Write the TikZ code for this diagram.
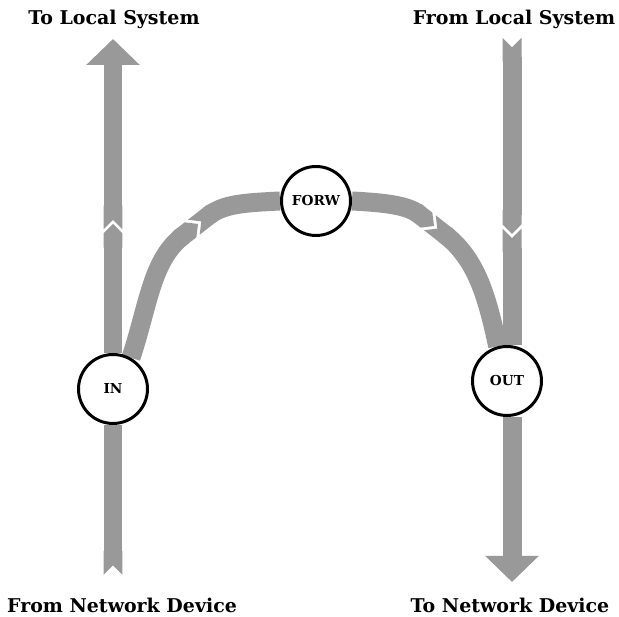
\documentclass[tikz,border=0pt]{standalone}
\usepackage{fontspec}
\setmainfont{DejaVu Serif}
\usetikzlibrary{arrows.meta,backgrounds}

\begin{document}
\begin{tikzpicture}[x=0.02cm, y=0.02cm,
  pipe/.style={line width=0.38cm, draw=black!40},
  hook/.style={circle, draw, line width=1.7pt, fill=white, minimum size=1.38cm,
    inner sep=0pt, font=\fontsize{7.8}{9}\selectfont\bfseries},
  caption/.style={font=\fontsize{10.8}{13}\selectfont\bfseries}]

  \useasboundingbox (0,0) rectangle (619,617);

  % hooks
  \node[hook] (in) at (113,228) {IN};
  \node[hook] (forw) at (316,416) {FORW};
  \node[hook] (out) at (507,236) {OUT};

  % captions
  \node[caption] (tolocal) at (114,598) {To Local System};
  \node[caption] (fromlocal) at (514,598) {From Local System};
  \node[caption] (fromdev) at (122,12) {From Network Device};
  \node[caption] (todev) at (510,12) {To Network Device};

  % ends and joints
  \coordinate (lbot) at (113,42);
  \coordinate (ltop) at (113,578);
  \coordinate (ljoin) at (113,393);
  \coordinate (rtop) at (512,579);
  \coordinate (rbot) at (512,35);
  \coordinate (rjoin) at (512,383);
  \coordinate (cljoin) at (198,393);
  \coordinate (crjoin) at (434,391);

  \begin{scope}[on background layer]
    % left: device to local system
    \draw[pipe, {Triangle Cap[reversed]}-] (lbot) -- (in);
    \draw[pipe, -{Triangle Cap}] (in) -- (ljoin);
    \draw[pipe, shorten <=-3pt, {Triangle Cap[reversed]}-{Triangle[width=1.04cm,length=0.52cm]}] (ljoin) -- (ltop);

    % right: local system to device
    \draw[pipe, {Triangle Cap[reversed]}-{Triangle Cap}] (rtop) -- (rjoin);
    \draw[pipe, shorten <=-3pt, {Triangle Cap[reversed]}-] (rjoin) -- (out.north -| rjoin);
    \draw[pipe, -{Triangle[width=1.04cm,length=0.52cm]}] (out.south -| rbot) -- (rbot);

    % forward path
    \draw[pipe, -{Triangle Cap}] (in.60) to[out=72, in=218] (cljoin);
    \draw[pipe, shorten <=-3pt, {Triangle Cap[reversed]}-] (cljoin) to[out=38, in=183] (forw.west);
    \draw[pipe, -{Triangle Cap}] (forw.east) to[out=-3, in=142] (crjoin);
    \draw[pipe, shorten <=-3pt, {Triangle Cap[reversed]}-] (crjoin) to[out=-38, in=102] (out.105);
  \end{scope}
\end{tikzpicture}
\end{document}
